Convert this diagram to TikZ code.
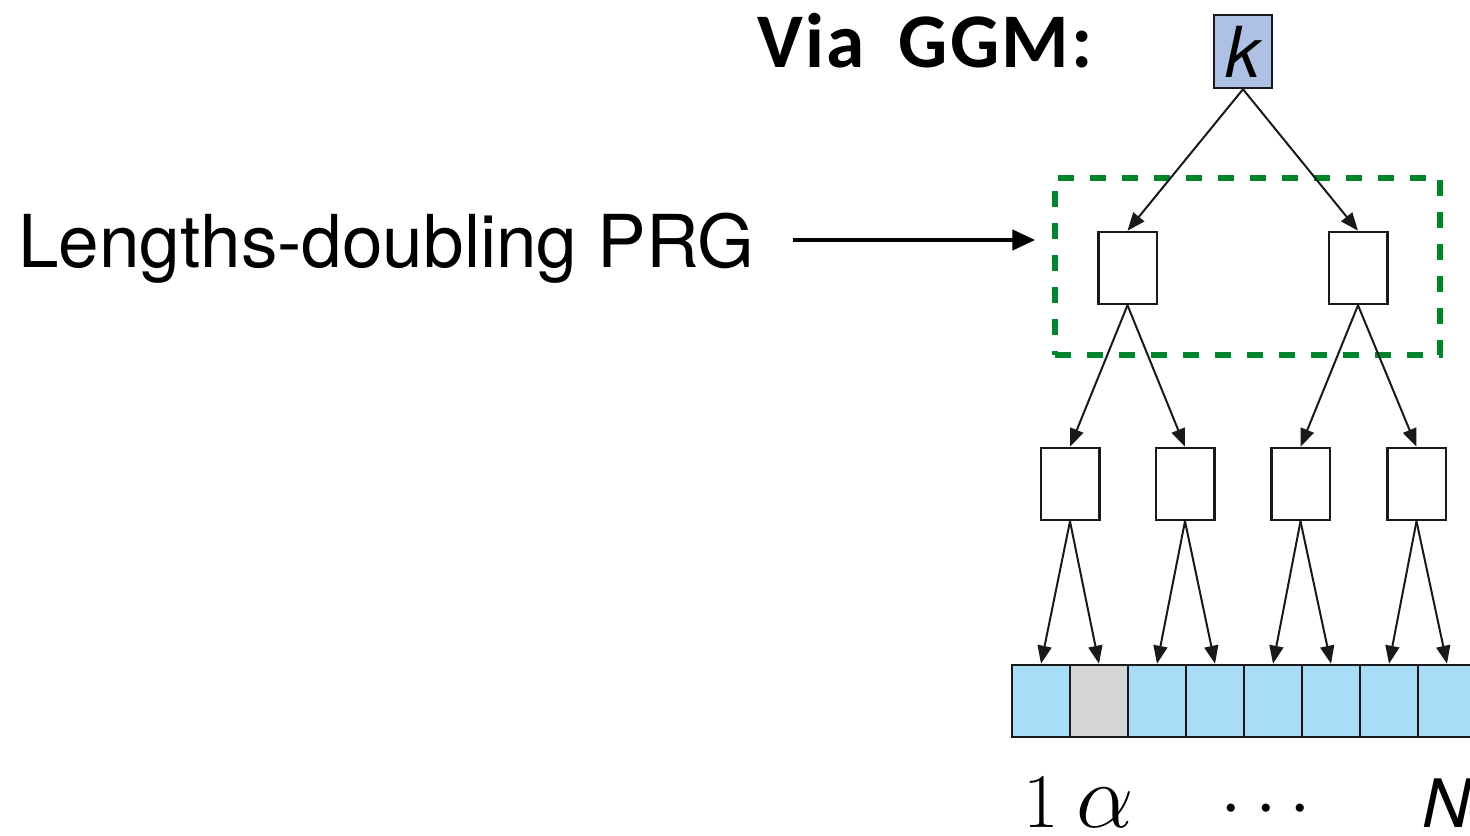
\RequirePackage{fix-cm}
\documentclass[tikz,border=0pt]{standalone}
\usepackage[no-math]{fontspec}
\setmainfont{TeX Gyre Heros}
\newfontfamily\calibri[LetterSpace=3,WordSpace=1.7]{Carlito}
\usetikzlibrary{arrows.meta}
\definecolor{keyblue}{HTML}{AEC0E4}
\definecolor{cellblue}{HTML}{A9DCF7}
\definecolor{cellgray}{HTML}{D6D6D6}
\definecolor{prggreen}{HTML}{00852D}

\begin{document}
\begin{tikzpicture}[
    box/.style={draw=black!90, line width=0.05cm, inner sep=0, minimum width=1.17cm, minimum height=1.44cm},
    cell/.style={box, fill=cellblue, minimum width=1.16cm},
    edge/.style={draw=black!90, line width=0.04cm, -{Triangle[length=0.36cm,width=0.28cm]}},
    label/.style={inner sep=0, anchor=base, font=\fontsize{44}{50}\selectfont}
  ]
    \useasboundingbox (0,0) rectangle (29.4,16.7);

    % title and the PRG note
    \node[anchor=base west, inner sep=0, font=\calibri\bfseries\fontsize{44}{50}\selectfont] (title) at (15.14,15.34) {Via GGM:};
    \node[anchor=base west, inner sep=0, font=\fontsize{41.5}{48}\selectfont] (prg) at (0.36,11.34) {Lengths-doubling PRG};
    \node[draw=prggreen, line width=0.13cm, dash pattern=on 0.32cm off 0.32cm, minimum width=7.7cm, minimum height=3.54cm] (grp) at (24.95,11.37) {};
    \coordinate (tip) at (20.7,11.9);
    \draw[line width=0.09cm, -{Triangle[length=0.46cm,width=0.4cm]}, shorten <=0.76cm, shorten >=0.33cm] (prg.east |- tip) -- (grp.west |- tip);

    % GGM tree
    \node[box, fill=keyblue, minimum width=1.16cm, minimum height=1.46cm, font=\itshape\fontsize{40}{46}\selectfont] (k) at (24.86,15.67) {k};
    \node[box] (n0) at (22.55,11.34) {};
    \node[box] (n1) at (27.16,11.34) {};
    \node[box] (n00) at (21.40,7.02) {};
    \node[box] (n01) at (23.70,7.02) {};
    \node[box] (n10) at (26.01,7.02) {};
    \node[box] (n11) at (28.33,7.02) {};

    % the output array
    \node[cell] (c1) at (20.82,2.68) {};
    \node[cell, fill=cellgray] (c2) at (21.98,2.68) {};
    \node[cell] (c3) at (23.14,2.68) {};
    \node[cell] (c4) at (24.30,2.68) {};
    \node[cell] (c5) at (25.46,2.68) {};
    \node[cell] (c6) at (26.62,2.68) {};
    \node[cell] (c7) at (27.78,2.68) {};
    \node[cell] (c8) at (28.94,2.68) {};

    \draw[edge] (k.south) -- (n0.north);
    \draw[edge] (k.south) -- (n1.north);
    \draw[edge] (n0.south) -- (n00.north);
    \draw[edge] (n0.south) -- (n01.north);
    \draw[edge] (n1.south) -- (n10.north);
    \draw[edge] (n1.south) -- (n11.north);
    \draw[edge] (n00.south) -- (c1.north);
    \draw[edge] (n00.south) -- (c2.north);
    \draw[edge] (n01.south) -- (c3.north);
    \draw[edge] (n01.south) -- (c4.north);
    \draw[edge] (n10.south) -- (c5.north);
    \draw[edge] (n10.south) -- (c6.north);
    \draw[edge] (n11.south) -- (c7.north);
    \draw[edge] (n11.south) -- (c8.north);

    % indices
    \node[label] (i1) at (20.83,0.16) {$1$};
    \node[label, font=\fontsize{52}{58}\selectfont] (ia) at (22.11,0.16) {$\alpha$};
    \node[label] (idots) at (25.32,0.16) {$\cdots$};
    \node[label, anchor=base west, font=\itshape\fontsize{38}{44}\selectfont] (iN) at (28.44,0.16) {N};
\end{tikzpicture}
\end{document}
